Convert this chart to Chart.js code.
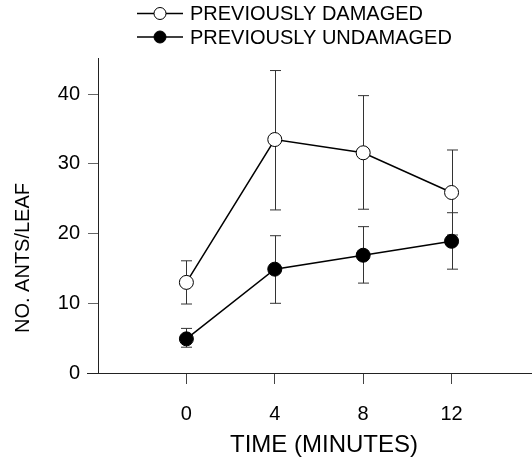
<!DOCTYPE html>
<html>
<head>
<meta charset="utf-8">
<script src="https://cdn.jsdelivr.net/npm/chart.js@4.4.1/dist/chart.umd.min.js"></script>
<style>
  body { margin: 0; background: #fff; }
  #wrap { position: relative; width: 532px; height: 463px; }
</style>
</head>
<body>
<div id="wrap"><canvas id="ants"></canvas></div>
<script>
// time points (minutes)
var times = [0, 4, 8, 12];
var xTicks = [0, 4, 8, 12];
var yTicks = [0, 10, 20, 30, 40];

// previously damaged leaves: mean and error bar ends
var damagedMean = [13.0, 33.5, 31.6, 25.9];
var damagedHigh = [16.1, 43.4, 39.8, 32.0];
var damagedLow  = [9.9, 23.4, 23.5, 19.8];

// previously undamaged leaves
var undamagedMean = [4.9, 14.9, 16.9, 18.9];
var undamagedHigh = [6.4, 19.7, 21.0, 23.0];
var undamagedLow  = [3.7, 10.0, 12.9, 14.9];

var FONT = "'Liberation Sans', Arial, Helvetica, sans-serif";

function pts(ys) {
  return times.map(function (t, i) { return { x: t, y: ys[i] }; });
}

var errBars = [
  { high: damagedHigh, low: damagedLow },
  { high: undamagedHigh, low: undamagedLow }
];

var extras = {
  id: 'extras',
  beforeDatasetsDraw: function (chart) {
    var ctx = chart.ctx, xs = chart.scales.x, ys = chart.scales.y;
    ctx.save();
    ctx.strokeStyle = '#333';
    ctx.lineWidth = 1;
    errBars.forEach(function (e) {
      times.forEach(function (t, i) {
        var px = Math.round(xs.getPixelForValue(t)) + 0.5;
        var top = ys.getPixelForValue(e.high[i]);
        var bot = ys.getPixelForValue(e.low[i]);
        ctx.beginPath();
        ctx.moveTo(px, top); ctx.lineTo(px, bot);
        ctx.moveTo(px - 5.5, top); ctx.lineTo(px + 5.5, top);
        ctx.moveTo(px - 5.5, bot); ctx.lineTo(px + 5.5, bot);
        ctx.stroke();
      });
    });
    ctx.restore();
  },
  afterDraw: function (chart) {
    var ctx = chart.ctx, area = chart.chartArea;
    ctx.save();
    // short stub of the x axis left of the y axis
    ctx.strokeStyle = '#222';
    ctx.lineWidth = 1;
    ctx.beginPath();
    ctx.moveTo(area.left - 11, area.bottom + 0.5);
    ctx.lineTo(area.left, area.bottom + 0.5);
    ctx.stroke();

    // axis titles
    ctx.fillStyle = '#000';
    ctx.textAlign = 'center';
    ctx.textBaseline = 'middle';
    ctx.font = '24px ' + FONT;
    ctx.fillText('TIME (MINUTES)', 324, 445);
    ctx.save();
    ctx.translate(23, 258);
    ctx.rotate(-Math.PI / 2);
    ctx.font = '20px ' + FONT;
    ctx.fillText('NO. ANTS/LEAF', 0, 0);
    ctx.restore();

    // legend
    var rows = [13.5, 37];
    chart.data.datasets.forEach(function (ds, i) {
      var y = rows[i];
      ctx.strokeStyle = '#000';
      ctx.lineWidth = 1.5;
      ctx.beginPath();
      ctx.moveTo(137, y); ctx.lineTo(183, y);
      ctx.stroke();
      ctx.beginPath();
      ctx.arc(160, y, 6, 0, Math.PI * 2);
      ctx.fillStyle = ds.pointBackgroundColor;
      ctx.fill();
      ctx.lineWidth = 1;
      ctx.stroke();
      ctx.fillStyle = '#000';
      ctx.textAlign = 'left';
      ctx.font = '20px ' + FONT;
      ctx.fillText(ds.label, 190, y + 1);
    });
    ctx.restore();
  }
};

new Chart(document.getElementById('ants'), {
  type: 'line',
  data: {
    datasets: [
      {
        label: 'PREVIOUSLY DAMAGED',
        data: pts(damagedMean),
        borderColor: '#000',
        borderWidth: 1.5,
        pointBackgroundColor: '#fff',
        pointBorderColor: '#000',
        pointBorderWidth: 1,
        pointRadius: 7,
        tension: 0
      },
      {
        label: 'PREVIOUSLY UNDAMAGED',
        data: pts(undamagedMean),
        borderColor: '#000',
        borderWidth: 1.5,
        pointBackgroundColor: '#000',
        pointBorderColor: '#000',
        pointBorderWidth: 1,
        pointRadius: 7,
        tension: 0
      }
    ]
  },
  options: {
    responsive: true,
    maintainAspectRatio: false,
    animation: false,
    layout: { autoPadding: false, padding: { top: 58, right: 0, left: 0, bottom: 0 } },
    plugins: { legend: { display: false }, tooltip: { enabled: false } },
    scales: {
      x: {
        type: 'linear',
        min: -4,
        max: 15.64,
        afterFit: function (s) { s.height = 90; },
        afterBuildTicks: function (s) { s.ticks = xTicks.map(function (v) { return { value: v }; }); },
        grid: { drawOnChartArea: false, tickLength: 11, color: '#444' },
        border: { color: '#222', width: 1 },
        ticks: { color: '#000', padding: 18, font: { family: FONT, size: 20 } }
      },
      y: {
        min: 0,
        max: 45.2,
        afterFit: function (s) { s.width = 98; },
        afterBuildTicks: function (s) { s.ticks = yTicks.map(function (v) { return { value: v }; }); },
        grid: { drawOnChartArea: false, tickLength: 10, color: '#666' },
        border: { color: '#222', width: 1 },
        ticks: { color: '#000', padding: 8, font: { family: FONT, size: 20 } }
      }
    }
  },
  plugins: [extras]
});
</script>
</body>
</html>
